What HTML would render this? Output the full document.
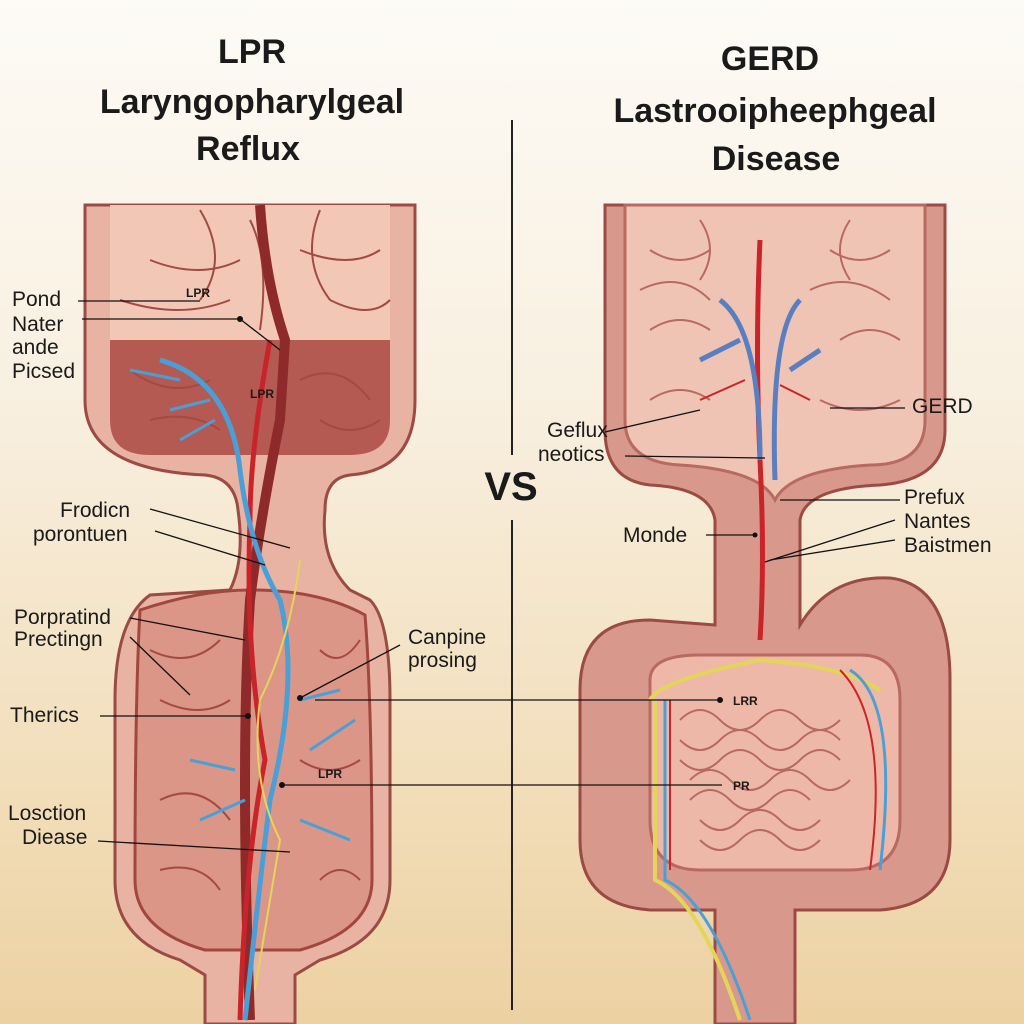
<!DOCTYPE html>
<html><head><meta charset="utf-8"><style>
html,body{margin:0;padding:0;width:1024px;height:1024px;overflow:hidden}
body{background:linear-gradient(180deg,#fdfbf6 0%,#f8efdf 40%,#f1dcb6 80%,#ecd1a2 100%)}
svg{display:block}
text{font-family:"Liberation Sans",sans-serif;fill:#1a1a1a}
</style></head><body>
<svg width="1024" height="1024" viewBox="0 0 1024 1024">
<g font-weight="bold" text-anchor="middle">
<text x="252" y="63" font-size="34">LPR</text>
<text x="252" y="113" font-size="34">Laryngopharylgeal</text>
<text x="248" y="160" font-size="34">Reflux</text>
<text x="770" y="70" font-size="34">GERD</text>
<text x="775" y="122" font-size="34">Lastrooipheephgeal</text>
<text x="776" y="170" font-size="34">Disease</text>
<text x="511" y="500" font-size="40">VS</text>
</g>
<line x1="512" y1="120" x2="512" y2="455" stroke="#222" stroke-width="2"/>
<line x1="512" y1="520" x2="512" y2="1010" stroke="#222" stroke-width="2"/>

<!-- LEFT anatomy -->
<g stroke="#9b4a44" stroke-width="3">
<path d="M85,205 H415 V400 Q415,470 350,475 Q325,478 325,510 Q320,560 350,590 L370,600 Q390,620 390,700 V880 Q390,940 320,960 L295,975 V1024 H205 V975 L180,960 Q115,940 115,880 V700 Q115,620 150,595 L230,590 Q245,560 238,510 Q235,478 205,475 Q85,470 85,400 Z" fill="#e9b3a3"/>
<path d="M110,340 H390 V420 Q390,455 350,455 H150 Q110,455 110,420 Z" fill="#b45a52" stroke="none"/>
<path d="M110,205 H390 V340 H110 Z" fill="#f2c7b6" stroke="none"/>
<path d="M140,610 Q200,590 250,590 Q320,590 365,615 Q372,700 372,880 Q372,930 300,950 H205 Q135,930 135,880 Q135,700 140,610 Z" fill="#dc9688" stroke="#a2473f"/>
</g>
<g stroke="#a34a44" stroke-width="2" fill="none">
<path d="M200,210 Q230,260 200,300 M320,210 Q300,260 330,300 M150,260 Q200,280 240,260 M300,250 Q350,270 380,250 M120,300 Q180,320 230,300 M330,300 Q370,320 390,300 M250,220 Q270,260 260,330"/>
<path d="M130,370 Q170,400 210,380 M300,380 Q340,360 370,400 M150,420 Q190,410 220,430 M320,420 Q350,440 380,420"/>
<path d="M160,700 Q200,720 230,700 M160,800 Q200,780 230,820 M320,880 Q340,860 360,880 M150,650 Q190,670 220,640 M320,650 Q340,670 360,640 M160,870 Q200,860 220,890 M300,760 Q330,780 360,760"/>
</g>
<path d="M260,205 Q265,280 285,340 L280,420 Q260,520 250,600 Q240,760 250,1020" fill="none" stroke="#8e2a2a" stroke-width="10"/>
<path d="M270,340 Q250,450 250,520 Q245,650 265,760 Q245,860 240,1020" fill="none" stroke="#c9242a" stroke-width="5"/>
<path d="M160,360 Q230,380 240,470 Q250,550 280,600 Q300,680 270,800 Q260,880 245,1020" fill="none" stroke="#4a9fd6" stroke-width="5"/>
<path d="M130,370 L180,380 M170,410 L210,400 M180,440 L215,420" stroke="#4a9fd6" stroke-width="3"/>
<path d="M300,560 Q290,640 260,700 Q250,780 280,840 Q270,900 255,990" fill="none" stroke="#e3d55a" stroke-width="2"/>
<path d="M300,700 L340,690 M310,750 L355,720 M300,820 L350,840 M200,820 L245,800 M190,760 L235,770" stroke="#4a9fd6" stroke-width="3" fill="none"/>

<!-- RIGHT anatomy -->
<g stroke="#9b4a44" stroke-width="3">
<path d="M605,205 H945 V430 Q945,480 880,485 Q805,488 800,520 V625 Q830,575 890,578 Q950,585 950,680 V840 Q950,905 880,910 H795 V1024 H715 V910 H650 Q580,905 580,840 V690 Q580,620 650,620 L715,625 V520 Q710,488 650,485 Q605,480 605,430 Z" fill="#d9988c"/>
<path d="M625,205 H925 V420 Q925,465 870,465 Q790,470 775,500 Q760,470 680,465 Q625,462 625,420 Z" fill="#f0c4b4" stroke="#b86a60"/>
<path d="M650,680 Q650,655 700,655 H860 Q900,655 900,700 V820 Q900,870 850,870 H700 Q650,870 650,820 Z" fill="#eeb8a8" stroke="#b86a60"/>
</g>
<g stroke="#b86a60" stroke-width="2" fill="none">
<path d="M680,720 q20,-20 40,0 t40,0 t40,0 t40,0 M680,740 q20,20 40,0 t40,0 t40,0 t40,0 M680,760 q20,20 40,0 t40,0 t40,0 t40,0 M690,780 q20,-20 40,0 t40,0 t40,0 t40,0 M690,800 q20,-20 40,0 t40,0 t40,0 M700,820 q20,20 40,0 t40,0 t40,0 M700,840 q20,20 40,0 t40,0 t40,0"/>
<path d="M650,250 q30,20 60,0 M830,250 q30,20 60,0 M650,330 q30,-20 60,0 M840,340 q30,-20 60,0 M640,290 q40,-20 70,10 M810,290 q40,-20 80,10 M650,400 q30,-20 60,0 M820,400 q40,20 80,0 M700,220 q20,30 0,60 M850,220 q-20,30 0,60"/>
</g>
<path d="M760,240 Q755,350 760,460 Q765,560 760,640" fill="none" stroke="#c9242a" stroke-width="5"/>
<path d="M720,300 Q760,330 760,460 M800,300 Q770,330 775,480 M700,360 L740,340 M820,350 L790,370" fill="none" stroke="#5a7fc0" stroke-width="5"/>
<path d="M700,400 L745,380 M810,400 L780,385" stroke="#c9242a" stroke-width="2"/>
<path d="M650,700 Q660,680 760,660 Q840,665 880,690 M655,700 V880 Q700,900 740,1020" fill="none" stroke="#e3d55a" stroke-width="4"/>
<path d="M665,700 V880 Q710,900 750,1020 M850,670 Q900,700 880,870" fill="none" stroke="#4a9fd6" stroke-width="3"/>
<path d="M670,700 V870 M840,670 Q890,720 870,870" fill="none" stroke="#c9242a" stroke-width="2"/>

<g font-size="21">
<text x="12" y="306">Pond</text><text x="12" y="331">Nater</text><text x="12" y="354">ande</text><text x="12" y="378">Picsed</text>
<text x="60" y="517">Frodicn</text><text x="33" y="541">porontuen</text>
<text x="14" y="624">Porpratind</text><text x="14" y="646">Prectingn</text>
<text x="10" y="722">Therics</text>
<text x="8" y="820">Losction</text><text x="22" y="844">Diease</text>
<text x="408" y="644">Canpine</text><text x="408" y="667">prosing</text>
<text x="547" y="437">Geflux</text><text x="538" y="461">neotics</text>
<text x="623" y="542">Monde</text>
<text x="912" y="413">GERD</text>
<text x="904" y="504">Prefux</text><text x="904" y="528">Nantes</text><text x="904" y="552">Baistmen</text>
</g>
<g font-size="12" font-weight="bold"><text x="186" y="297">LPR</text><text x="250" y="398">LPR</text><text x="318" y="778">LPR</text><text x="733" y="705">LRR</text><text x="733" y="790">PR</text></g>
<g stroke="#111" stroke-width="1.3" fill="none">
<line x1="78" y1="301" x2="200" y2="301"/><line x1="82" y1="319" x2="240" y2="319"/><line x1="240" y1="319" x2="280" y2="350"/>
<line x1="150" y1="509" x2="290" y2="548"/><line x1="155" y1="531" x2="265" y2="565"/>
<line x1="130" y1="618" x2="245" y2="640"/><line x1="130" y1="637" x2="190" y2="695"/>
<line x1="100" y1="716" x2="248" y2="716"/>
<line x1="98" y1="841" x2="290" y2="852"/>
<line x1="400" y1="645" x2="300" y2="698"/>
<line x1="315" y1="700" x2="720" y2="700"/>
<line x1="280" y1="785" x2="722" y2="785"/>
<line x1="605" y1="432" x2="700" y2="410"/><line x1="625" y1="456" x2="765" y2="458"/>
<line x1="706" y1="535" x2="755" y2="535"/>
<line x1="905" y1="408" x2="830" y2="408"/>
<line x1="900" y1="500" x2="780" y2="500"/><line x1="895" y1="520" x2="765" y2="562"/><line x1="895" y1="540" x2="770" y2="560"/>
</g>
<g fill="#111"><circle cx="240" cy="319" r="3"/><circle cx="248" cy="716" r="3"/><circle cx="300" cy="698" r="3"/><circle cx="720" cy="700" r="3"/><circle cx="282" cy="785" r="3"/><circle cx="755" cy="535" r="2.5"/></g>
</svg>
</body></html>
